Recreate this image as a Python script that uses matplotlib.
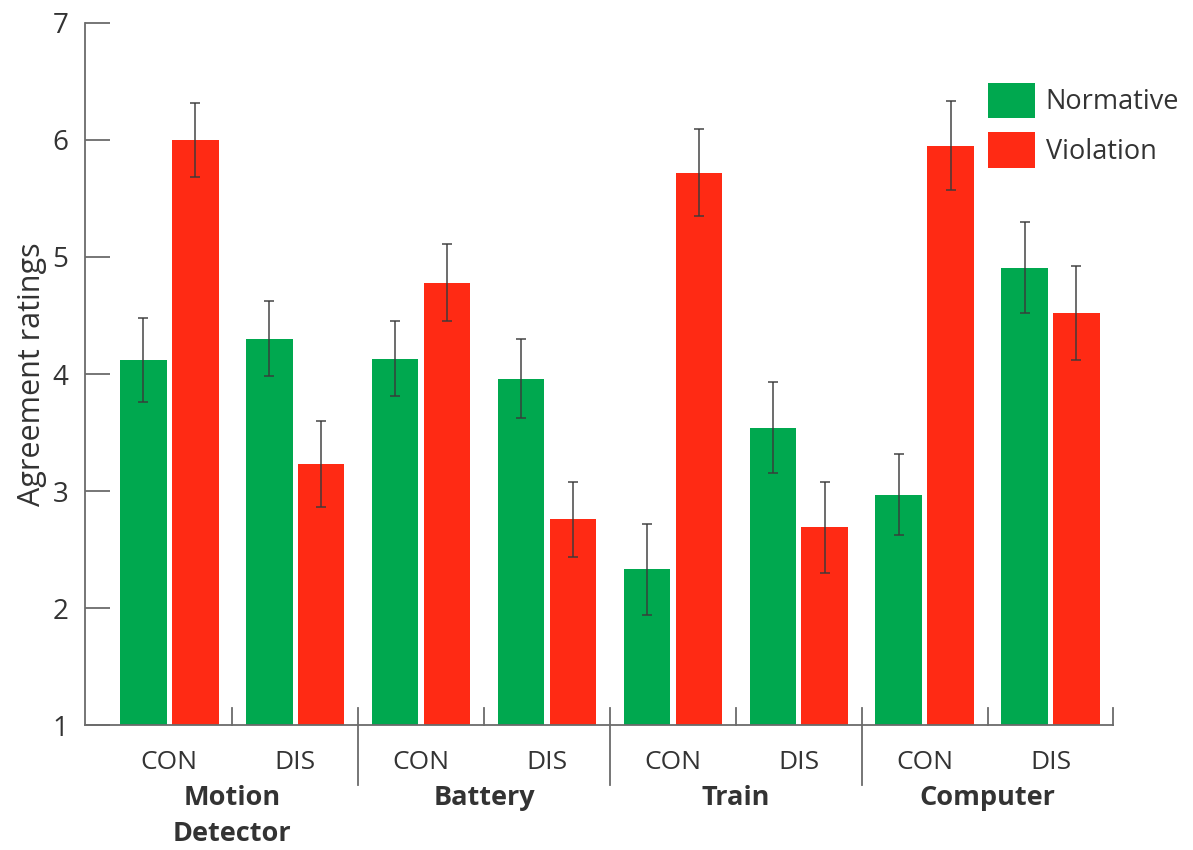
import numpy as np
import matplotlib
matplotlib.use('Agg')
import matplotlib.pyplot as plt

plt.rcParams['font.family'] = ['Open Sans', 'DejaVu Sans']

groups = ['Motion\nDetector', 'Battery', 'Train', 'Computer']
conds = ['CON', 'DIS']

normative = np.array([4.12, 4.30, 4.13, 3.96, 2.33, 3.54, 2.97, 4.91])
normative_err = np.array([0.36, 0.32, 0.32, 0.34, 0.39, 0.39, 0.35, 0.39])
violation = np.array([6.00, 3.23, 4.78, 2.76, 5.72, 2.69, 5.95, 4.52])
violation_err = np.array([0.32, 0.37, 0.33, 0.32, 0.37, 0.39, 0.38, 0.40])

green = '#00a84f'
red = '#ff2a14'
axcol = '#6b6b6b'
txt = '#333333'

fig = plt.figure(figsize=(11.93, 8.5), dpi=100)
ax = fig.add_axes([0.0713, 0.147, 0.862, 0.826])

n = len(normative)
centers = np.arange(n) + 0.5
width = 0.37
off = 0.206

ekw = dict(ecolor='#3a3a3a', elinewidth=1.3, capsize=3.5, capthick=1.3, alpha=0.8)
p1 = ax.bar(centers - off, normative - 1, width, bottom=1, color=green,
            yerr=normative_err, error_kw=ekw, label='Normative')
p2 = ax.bar(centers + off, violation - 1, width, bottom=1, color=red,
            yerr=violation_err, error_kw=ekw, label='Violation')

ax.set_xlim(-0.17, n)
ax.set_ylim(1, 7)
ax.set_yticks(np.arange(1, 8))
ax.tick_params(axis='y', direction='in', length=18, width=1.3, color=axcol,
               labelsize=20, labelcolor=txt, pad=12)
for lab in ax.get_yticklabels():
    lab.set_horizontalalignment('right')

ax.set_xticks(centers)
ax.set_xticklabels(conds * len(groups))
ax.tick_params(axis='x', length=0, labelsize=19, labelcolor=txt, pad=18)

for s in ['top', 'right']:
    ax.spines[s].set_visible(False)
for s in ['left', 'bottom']:
    ax.spines[s].set_color(axcol)
    ax.spines[s].set_linewidth(1.3)

trans = ax.get_xaxis_transform()
# boundaries between conditions / groups
for b in range(1, n + 1):
    if b % 2 == 0 and b < n:
        ax.plot([b, b], [0.024, -0.085], transform=trans, color=axcol,
                lw=1.3, clip_on=False)
    else:
        ax.plot([b, b], [0.024, 0], transform=trans, color=axcol,
                lw=1.3, clip_on=False)

for g, name in enumerate(groups):
    ax.text(2 * g + 1, -0.086, name, transform=trans, ha='center', va='top',
            fontsize=19.5, fontweight='bold', color=txt, linespacing=1.5)

ax.set_ylabel('Agreement ratings', fontsize=22, color=txt, labelpad=4)

ax.legend(loc='upper left', bbox_to_anchor=(0.878, 0.915), frameon=False,
          fontsize=19.5, handlelength=1.75, handleheight=1.65, handletextpad=0.38,
          labelspacing=0.5, labelcolor=txt, borderpad=0, borderaxespad=0)

fig.savefig('out.png', dpi=100)
